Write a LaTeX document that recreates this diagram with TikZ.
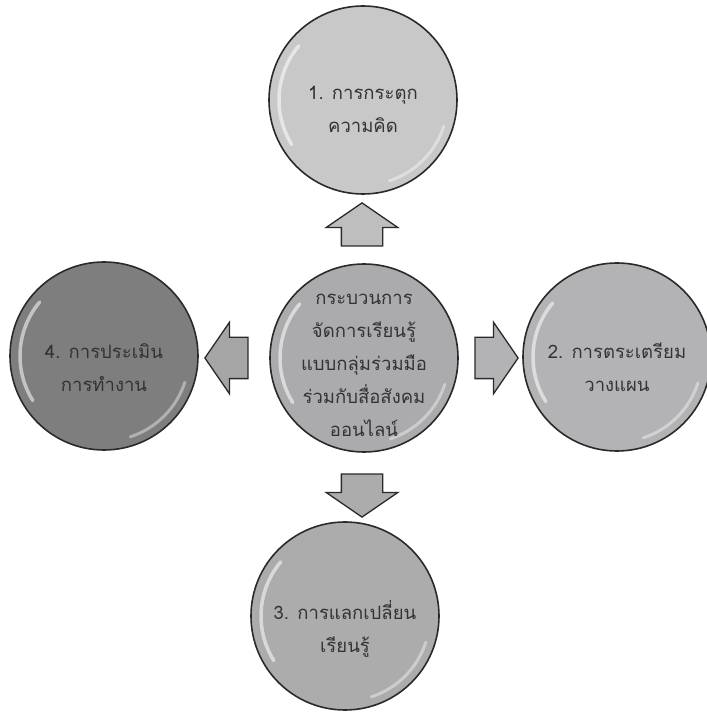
\documentclass[tikz,border=0pt]{standalone}
\usepackage{fontspec}
\newfontfamily\thaifont[Script=Thai]{Loma}
\usetikzlibrary{shapes.arrows}

\definecolor{rim}{HTML}{2A2A2A}
\definecolor{inktext}{HTML}{333333}
\definecolor{thinkfill}{HTML}{C8C8C8}
\definecolor{corefill}{HTML}{ABABAD}
\definecolor{planfill}{HTML}{B3B3B5}
\definecolor{sharefill}{HTML}{ACACAC}
\definecolor{judgefill}{HTML}{7E7E7E}

\begin{document}
\begin{tikzpicture}[x=1pt,y=1pt,
	stepcirc/.style={circle,draw=rim,line width=1.6pt,minimum size=188pt,inner sep=0pt},
	steptext/.style={align=center,text=inktext,inner sep=0pt,font=\thaifont\fontsize{18.5}{33}\selectfont},
	blockarrow/.style={single arrow,draw=rim,line width=1.3pt,
		single arrow head extend=15pt,single arrow tip angle=111,
		minimum height=43pt,inner xsep=0pt,inner ysep=20pt,outer sep=0pt}
	]
	\useasboundingbox (0,0) rectangle (707,713);

	\node[stepcirc,fill=thinkfill] (think) at (363,613) {};
	\node[stepcirc,fill=corefill] (core) at (364,355) {};
	\node[stepcirc,fill=planfill] (plan) at (617,356) {};
	\node[stepcirc,fill=sharefill] (share) at (345,97) {};
	\node[stepcirc,fill=judgefill] (judge) at (104,357) {};

	% gloss on the rims
	\foreach \n in {think,core,plan,share,judge}{
		\draw[white,opacity=.55,line width=3.5pt,line cap=round] (\n.center) ++(140:84pt) arc[start angle=140,end angle=212,radius=84pt];
		\draw[white,opacity=.4,line width=3pt,line cap=round] (\n.center) ++(-72:85pt) arc[start angle=-72,end angle=-18,radius=85pt];
	}

	\node[steptext] (thinktext) at ([yshift=-9pt]think.center) {1. การกระตุก\\ความคิด};
	\node[steptext] (coretext) at ([yshift=-7pt]core.center)
		{กระบวนการ\\จัดการเรียนรู้\\แบบกลุ่มร่วมมือ\\ร่วมกับสื่อสังคม\\ออนไลน์};
	\node[steptext] (plantext) at ([yshift=-10pt]plan.center) {2. การตระเตรียม\\วางแผน};
	\node[steptext] (sharetext) at ([yshift=-13pt]share.center) {3. การแลกเปลี่ยน\\เรียนรู้};
	\node[steptext] (judgetext) at ([yshift=-12pt]judge.center) {4. การประเมิน\\การทำงาน};

	\node[blockarrow,fill=thinkfill!95!black,rotate=90] (toThink) at (362,481.5) {};
	\node[blockarrow,fill=sharefill,rotate=-90] (toShare) at (362,224.5) {};
	\node[blockarrow,fill=judgefill!70!white,rotate=180] (toJudge) at (233.5,355) {};
	\node[blockarrow,fill=planfill] (toPlan) at (489.5,355) {};

\end{tikzpicture}
\end{document}
